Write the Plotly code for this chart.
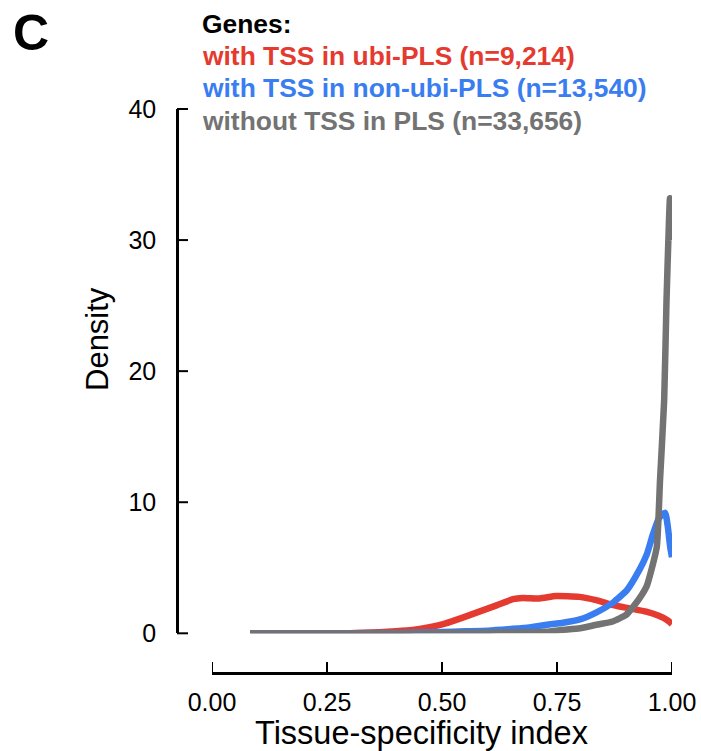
import plotly.graph_objects as go

# ---- data ----
series_names = ["with TSS in ubi-PLS (n=9,214)",
                "with TSS in non-ubi-PLS (n=13,540)",
                "without TSS in PLS (n=33,656)"]
series_colors = ["#E53A2F", "#3A7DF0", "#737373"]

red_x = [0.083, 0.3, 0.364, 0.4, 0.436, 0.47, 0.508, 0.545, 0.581, 0.62, 0.654, 0.675,
         0.712, 0.748, 0.799, 0.835, 0.872, 0.908, 0.944, 0.97, 0.99, 1.0]
red_y = [0, 0.01, 0.08, 0.15, 0.25, 0.45, 0.76, 1.2, 1.65, 2.15, 2.6, 2.7,
         2.66, 2.84, 2.78, 2.53, 2.15, 1.9, 1.65, 1.35, 1.0, 0.71]

blue_x = [0.083, 0.3, 0.4, 0.5, 0.55, 0.6, 0.65, 0.69, 0.727, 0.763, 0.8, 0.836, 0.872,
          0.902, 0.93, 0.945, 0.959, 0.972, 0.985, 0.991, 0.996, 1.0]
blue_y = [0, 0.01, 0.03, 0.1, 0.15, 0.2, 0.33, 0.45, 0.65, 0.8, 1.06, 1.6, 2.35,
          3.3, 4.9, 6.0, 7.6, 8.8, 9.2, 8.1, 6.6, 5.8]

gray_x = [0.083, 0.3, 0.4, 0.5, 0.6, 0.65, 0.7, 0.727, 0.76, 0.8, 0.836, 0.871, 0.9,
          0.915, 0.93, 0.945, 0.955, 0.967, 0.974, 0.983, 0.988, 0.993, 0.9956, 1.0]
gray_y = [0, 0, 0.01, 0.03, 0.06, 0.08, 0.08, 0.12, 0.25, 0.38, 0.65, 0.9, 1.4,
          2.0, 2.7, 3.6, 4.8, 6.6, 11.7, 17.8, 25.3, 31.0, 33.2, 30.0]

x_ticks = [0.0, 0.25, 0.5, 0.75, 1.0]
x_tick_labels = ["0.00", "0.25", "0.50", "0.75", "1.00"]
y_ticks = [0, 10, 20, 30, 40]

# ---- layout geometry (pixels) ----
W, H = 701, 751
ML, MR, MT, MB = 177, 29, 109, 78
PW, PH = W - ML - MR, H - MT - MB
x0_px = 212
y0_px = 633.3
TICK_LEN = 11
Y_RANGE = [0, 40]

def px_x(p):
    return (p - ML) / PW

def px_y(p):
    return (H - MB - p) / PH

FONT = "Liberation Sans, Arial, Helvetica, sans-serif"
ydom = [px_y(y0_px), 1]

fig = go.Figure()
for xs, ys, name, col in [(red_x, red_y, series_names[0], series_colors[0]),
                          (blue_x, blue_y, series_names[1], series_colors[1]),
                          (gray_x, gray_y, series_names[2], series_colors[2])]:
    fig.add_trace(go.Scatter(x=xs, y=ys, mode="lines", name=name,
                             line=dict(color=col, width=6.5, shape="spline", smoothing=0.5),
                             showlegend=False, cliponaxis=False))

fig.update_layout(
    width=W, height=H,
    margin=dict(l=ML, r=MR, t=MT, b=MB, autoexpand=False),
    paper_bgcolor="white", plot_bgcolor="white",
    font=dict(family=FONT, color="black"),
    xaxis=dict(domain=[px_x(x0_px), 1], range=[0, 1], anchor="free", position=0,
               automargin=False,
               showline=True, linecolor="black", linewidth=2.5, ticks="",
               tickvals=x_ticks, ticktext=x_tick_labels, ticklabelstandoff=6,
               tickfont=dict(size=25, family=FONT), showgrid=False, zeroline=False),
    yaxis=dict(domain=ydom, range=Y_RANGE, anchor="free", position=0,
               automargin=False,
               showline=True, linecolor="black", linewidth=2.5, ticks="",
               tickvals=y_ticks, tickfont=dict(size=25, family=FONT), ticklabelstandoff=15,
               showgrid=False, zeroline=False),
)

# axis tick marks pointing into the panel
for v in y_ticks:
    yp = ydom[0] + (v - Y_RANGE[0]) / (Y_RANGE[1] - Y_RANGE[0]) * (ydom[1] - ydom[0])
    fig.add_shape(type="line", xref="paper", yref="paper",
                  x0=0, x1=TICK_LEN / PW, y0=yp, y1=yp,
                  line=dict(color="black", width=2), layer="above")
for v in x_ticks:
    fig.add_shape(type="line", xref="x", yref="paper",
                  x0=v, x1=v, y0=0, y1=TICK_LEN / PH,
                  line=dict(color="black", width=2), layer="above")

# axis titles
fig.add_annotation(x=px_x(421), y=px_y(733), xref="paper", yref="paper",
                   text="Tissue-specificity index", showarrow=False,
                   xanchor="center", yanchor="middle",
                   font=dict(size=32.5, color="black", family=FONT))
fig.add_annotation(x=px_x(97), y=px_y(339), xref="paper", yref="paper",
                   text="Density", showarrow=False, textangle=-90,
                   xanchor="center", yanchor="middle",
                   font=dict(size=31, color="black", family=FONT))

legend_lines = [("<b>Genes:</b>", "black", 24.5)] + \
    [("<b>" + n + "</b>", c, yy) for n, c, yy in zip(series_names, series_colors, [55.8, 87.8, 120.8])]
for txt, col, ypx in legend_lines:
    fig.add_annotation(x=px_x(200), y=px_y(ypx), xref="paper", yref="paper",
                       text=txt, showarrow=False, xanchor="left", yanchor="middle",
                       font=dict(size=26.4, color=col, family=FONT))

fig.add_annotation(x=px_x(11), y=px_y(33), xref="paper", yref="paper",
                   text="<b>C</b>", showarrow=False, xanchor="left", yanchor="middle",
                   font=dict(size=50, color="black", family=FONT))

fig.write_html("out.html")
